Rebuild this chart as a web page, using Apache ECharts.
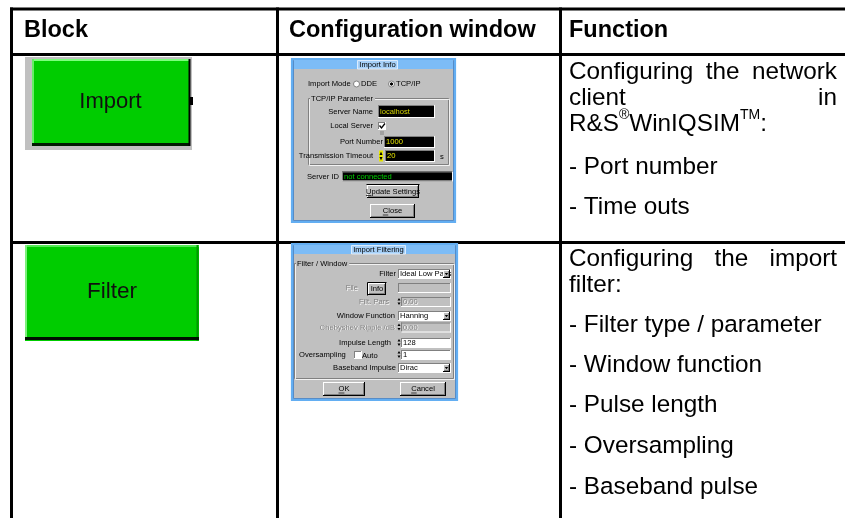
<!DOCTYPE html>
<html><head><meta charset="utf-8">
<script src="https://cdn.jsdelivr.net/npm/echarts@6/dist/echarts.min.js"></script>
<style>html,body{margin:0;padding:0;background:#fff}#c{width:845px;height:518px}</style>
</head><body><div id="c"></div>
<script>
// ---------- content ----------
const headers = ["Block", "Configuration window", "Function"];
const blockNames = ["Import", "Filter"];
const dialogTitles = ["Import Info", "Import Filtering"];
const functionIntro = [
  ["Configuring the network", "client in", "R&S^®^WinIQSIM^TM^:"],
  ["Configuring the import", "filter:"]
];
const functionItems = [
  ["- Port number", "- Time outs"],
  ["- Filter type / parameter", "- Window function", "- Pulse length", "- Oversampling", "- Baseband pulse"]
];
const importModes = ["DDE", "TCP/IP"];
const importLabels = ["Import Mode", "TCP/IP Parameter", "Server Name", "Local Server", "Port Number", "Transmission Timeout", "s", "Server ID"];
const importValues = ["localhost", "1000", "20", "not connected"];
const importButtons = ["Update Settings", "Close"];
const filterLabels = ["Filter / Window", "Filter", "File", "Filt. Pars", "Window Function", "Chebyshev Ripple /dB", "Impulse Length", "Oversampling", "Auto", "Baseband Impulse"];
const filterValues = ["Ideal Low Pass", "0.00", "Hanning", "0.00", "128", "1", "Dirac"];
const filterButtons = ["Info", "OK", "Cancel"];

// ---------- helpers ----------
const FF = '"Liberation Sans", Arial, sans-serif';
const BODY = '24.3px ' + FF;
const HEAD = 'bold 23.5px ' + FF;
const SMALL = '7.6px ' + FF;
const mctx = document.createElement('canvas').getContext('2d');
function tw(s, font) { mctx.font = font; return mctx.measureText(s).width; }
const els = [];
function R(x, y, w, h, fill, stroke, lw) {
  els.push({ type: 'rect', silent: true, shape: { x, y, width: w, height: h },
    style: { fill: fill || 'none', stroke: stroke || null, lineWidth: lw || 1 } });
}
function L(x1, y1, x2, y2, c, lw) {
  els.push({ type: 'line', silent: true, shape: { x1, y1, x2, y2 }, style: { stroke: c, lineWidth: lw || 1 } });
}
function P(points, fill, stroke, lw) {
  els.push({ type: stroke && !fill ? 'polyline' : 'polygon', silent: true, shape: { points },
    style: { fill: fill || 'none', stroke: stroke || null, lineWidth: lw || 1 } });
}
function C(cx, cy, r, fill, stroke) {
  els.push({ type: 'circle', silent: true, shape: { cx, cy, r }, style: { fill, stroke, lineWidth: 1 } });
}
function T(x, y, text, font, fill, align) {
  els.push({ type: 'text', silent: true, x, y,
    style: { text, font, fill: fill || '#000', align: align || 'left', verticalAlign: 'middle',
      textAlign: align || 'left', textVerticalAlign: 'middle' } });
}
function emboss(x, y, text, align) { T(x + 0.7, y + 0.7, text, SMALL, '#ffffff', align); T(x, y, text, SMALL, '#808080', align); }
function btn(x, y, w, h, label, ul) {
  R(x, y, w, h, '#c0c0c0');
  L(x, y + 0.5, x + w, y + 0.5, '#fff'); L(x + 0.5, y, x + 0.5, y + h, '#fff');
  L(x, y + h - 0.5, x + w, y + h - 0.5, '#000'); L(x + w - 0.5, y, x + w - 0.5, y + h, '#000');
  L(x + 1, y + h - 1.5, x + w - 1, y + h - 1.5, '#808080'); L(x + w - 1.5, y + 1, x + w - 1.5, y + h - 1, '#808080');
  T(x + w / 2, y + h / 2, label, SMALL, '#000', 'center');
  if (ul) { const lw = tw(label, SMALL); const w0 = tw(label[0], SMALL); const sx = x + w / 2 - lw / 2; L(sx, y + h / 2 + 4, sx + w0, y + h / 2 + 4, '#000', 0.7); }
}
function field(x, y, w, h, fill) {
  R(x, y, w, h, fill);
  L(x, y + 0.5, x + w, y + 0.5, '#808080'); L(x + 0.5, y, x + 0.5, y + h, '#808080');
  L(x, y + h - 0.5, x + w, y + h - 0.5, '#fff'); L(x + w - 0.5, y, x + w - 0.5, y + h, '#fff');
}
function drop(x, y, h) {
  btn(x, y + 1, 7, h - 2, '');
  P([[x + 1.8, y + h / 2 - 1], [x + 5.2, y + h / 2 - 1], [x + 3.5, y + h / 2 + 1.2]], '#000');
}
function spin(x, y, h, col) {
  R(x, y, 4, h, col || '#c0c0c0');
  P([[x + 0.5, y + h / 2 - 1], [x + 3.5, y + h / 2 - 1], [x + 2, y + 1]], '#000');
  P([[x + 0.5, y + h / 2 + 1], [x + 3.5, y + h / 2 + 1], [x + 2, y + h - 1]], '#000');
}
function check(x, y) {
  field(x, y, 8, 8, '#fff');
}
function dialogFrame(x, y, w, h, title, tbW) {
  R(x, y, w, h, '#c0c0c0');
  R(x + 1, y + 1, w - 2, h - 2, 'none', '#63aef2', 2.2);
  R(x + 2.5, y + 2.5, w - 5, h - 5, 'none', '#3d7fc8', 0.8);
  R(x + 3, y + 2, w - 6, 9, '#7dbcf6');
  const tx = x + w / 2 - tbW / 2 + 4;
  R(tx, y + 2.5, tbW, 8.5, '#a6d0f8', '#eef6ff', 0.8);
  T(tx + tbW / 2, y + 7, title, SMALL, '#000', 'center');
}
function groupBox(x, y, w, h, label) {
  R(x + 0.5, y + 0.5, w, h, 'none', '#808080', 1);
  R(x + 1.5, y + 1.5, w, h, 'none', '#ffffff', 0.8);
  const lw = tw(label, SMALL);
  R(x + 2, y - 4, lw + 3, 8, '#c0c0c0');
  T(x + 3, y + 0.5, label, SMALL, '#000');
}

// ---------- table frame ----------
const colX = [11.5, 277.5, 560.5];
const rowY = [9, 54.5, 242.5];
rowY.forEach(y => L(10, y, 845, y, '#000', 3));
colX.forEach(x => L(x, 7.5, x, 518, '#000', 3));
const headX = [24, 289, 569];
headers.forEach((h, i) => T(headX[i], 31, h, HEAD, '#000'));

// ---------- block buttons ----------
// Import
R(25, 57, 167, 93, '#c0c0c0');
R(32, 59, 157, 87, '#00cc00');
L(32, 60, 189, 60, '#7cff7c', 2); L(33, 59, 33, 145, '#66ee66', 2);
L(32, 144.5, 190, 144.5, '#001a00', 3); L(189.5, 59, 189.5, 146, '#000', 2);
R(190, 97, 3, 8, '#000');
T(110.5, 102, blockNames[0], '22px ' + FF, '#101010', 'center');
// Filter
R(25, 245, 174, 96, '#00cc00');
L(25, 246, 199, 246, '#55e855', 2); L(26, 245, 26, 340, '#7cf07c', 2);
L(197.5, 245, 197.5, 341, '#009900', 2);
L(25, 338.5, 199, 338.5, '#001000', 3);
T(112, 292, blockNames[1], '22.5px ' + FF, '#101010', 'center');

// ---------- Import Info dialog ----------
dialogFrame(291, 58, 165, 165, dialogTitles[0], 40);
T(308, 84, importLabels[0], SMALL);
C(356.5, 84, 3, '#fff', '#808080'); T(361, 84, importModes[0], SMALL);
C(391.5, 84, 3, '#fff', '#808080'); C(391.5, 84, 1.2, '#000', '#000'); T(396, 84, importModes[1], SMALL);
groupBox(308, 98, 140, 66, importLabels[1]);
T(373, 112, importLabels[2], SMALL, '#000', 'right');
field(378, 105, 57, 13, '#000'); T(380, 111.5, importValues[0], SMALL, '#d4d400');
T(373, 126, importLabels[3], SMALL, '#000', 'right');
check(378, 122); P([[379.5, 125.5], [381.5, 128], [385, 123.5]], null, '#000', 1.3);
T(383, 142, importLabels[4], SMALL, '#000', 'right');
R(380, 131, 4, 4, '#a0a0a0');
field(384, 136, 51, 12, '#000'); T(386, 142, importValues[1], SMALL, '#e8e800');
T(373, 156, importLabels[5], SMALL, '#000', 'right');
spin(379, 150.5, 11, '#e8e800');
field(385, 150, 50, 12, '#000'); T(387, 156, importValues[2], SMALL, '#e8e800');
T(440, 156.5, importLabels[6], SMALL);
T(307, 176.5, importLabels[7], SMALL);
field(342, 171.5, 111, 10, '#000'); T(344, 176.5, importValues[3], SMALL, '#00d000');
btn(367, 185, 52, 13, importButtons[0], true);
L(366.5, 184.5, 419.5, 184.5, '#000', 1);
btn(370, 204, 45, 14, importButtons[1], true);

// ---------- Import Filtering dialog ----------
dialogFrame(291, 243, 167, 158, dialogTitles[1], 54);
groupBox(294, 263, 159, 115, filterLabels[0]);
T(396, 274, filterLabels[1], SMALL, '#000', 'right');
field(398, 269, 53, 10, '#fff'); T(400, 274, filterValues[0], SMALL); drop(443, 269, 10);
emboss(358, 288, filterLabels[2], 'right');
btn(368, 283, 18, 12, filterButtons[0]);
L(367.5, 282.5, 386.5, 282.5, '#000'); L(367.5, 282.5, 367.5, 295.5, '#000');
field(398, 283, 53, 10, '#c0c0c0');
emboss(389, 302, filterLabels[3], 'right');
spin(397, 297, 9); field(401, 297, 50, 10, '#c0c0c0'); emboss(403, 302, filterValues[1]);
T(395, 316, filterLabels[4], SMALL, '#000', 'right');
field(398, 311, 53, 10, '#fff'); T(400, 316, filterValues[2], SMALL); drop(443, 311, 10);
emboss(395, 327.5, filterLabels[5], 'right');
spin(397, 322.5, 9); field(401, 322.5, 50, 10, '#c0c0c0'); emboss(403, 327.5, filterValues[3]);
T(391, 343, filterLabels[6], SMALL, '#000', 'right');
spin(397, 338, 9); field(401, 338, 50, 10, '#fff'); T(403, 343, filterValues[4], SMALL);
T(299, 355, filterLabels[7], SMALL);
check(354, 351); T(362, 355.5, filterLabels[8], SMALL);
spin(397, 350, 9); field(401, 350, 50, 10, '#fff'); T(403, 355, filterValues[5], SMALL);
T(396, 368, filterLabels[9], SMALL, '#000', 'right');
field(398, 363, 53, 10, '#fff'); T(400, 368, filterValues[6], SMALL); drop(443, 363, 10);
btn(323, 382, 42, 14, filterButtons[1], true);
btn(400, 382, 46, 14, filterButtons[2], true);

// ---------- function column ----------
const FX0 = 569, FX1 = 837;
const introY = [[72, 98, 124], [259, 285]];
const itemY = [[167, 207], [325, 365, 405, 446, 487]];
function justified(str, y) {
  const words = str.split(' ');
  const widths = words.map(w => tw(w, BODY));
  const total = widths.reduce((a, b) => a + b, 0);
  const gap = (FX1 - FX0 - total) / (words.length - 1);
  let x = FX0;
  words.forEach((w, i) => { T(x, y, w, BODY); x += widths[i] + gap; });
}
function supLine(str, y) {
  const parts = str.split('^');
  let x = FX0;
  const SUP = '14px ' + FF;
  parts.forEach((p, i) => {
    if (!p) return;
    if (i % 2 === 0) { T(x, y, p, BODY); x += tw(p, BODY); }
    else { T(x, y - 9, p, SUP); x += tw(p, SUP); }
  });
}
functionIntro.forEach((lines, r) => {
  lines.forEach((ln, i) => {
    const y = introY[r][i];
    if (i < lines.length - 1) justified(ln, y);
    else supLine(ln, y);
  });
});
functionItems.forEach((items, r) => items.forEach((it, i) => T(FX0, itemY[r][i], it, BODY)));

const chart = echarts.init(document.getElementById('c'), null, { renderer: 'canvas' });
chart.setOption({ animation: false, graphic: { elements: els } });
</script>
</body></html>
